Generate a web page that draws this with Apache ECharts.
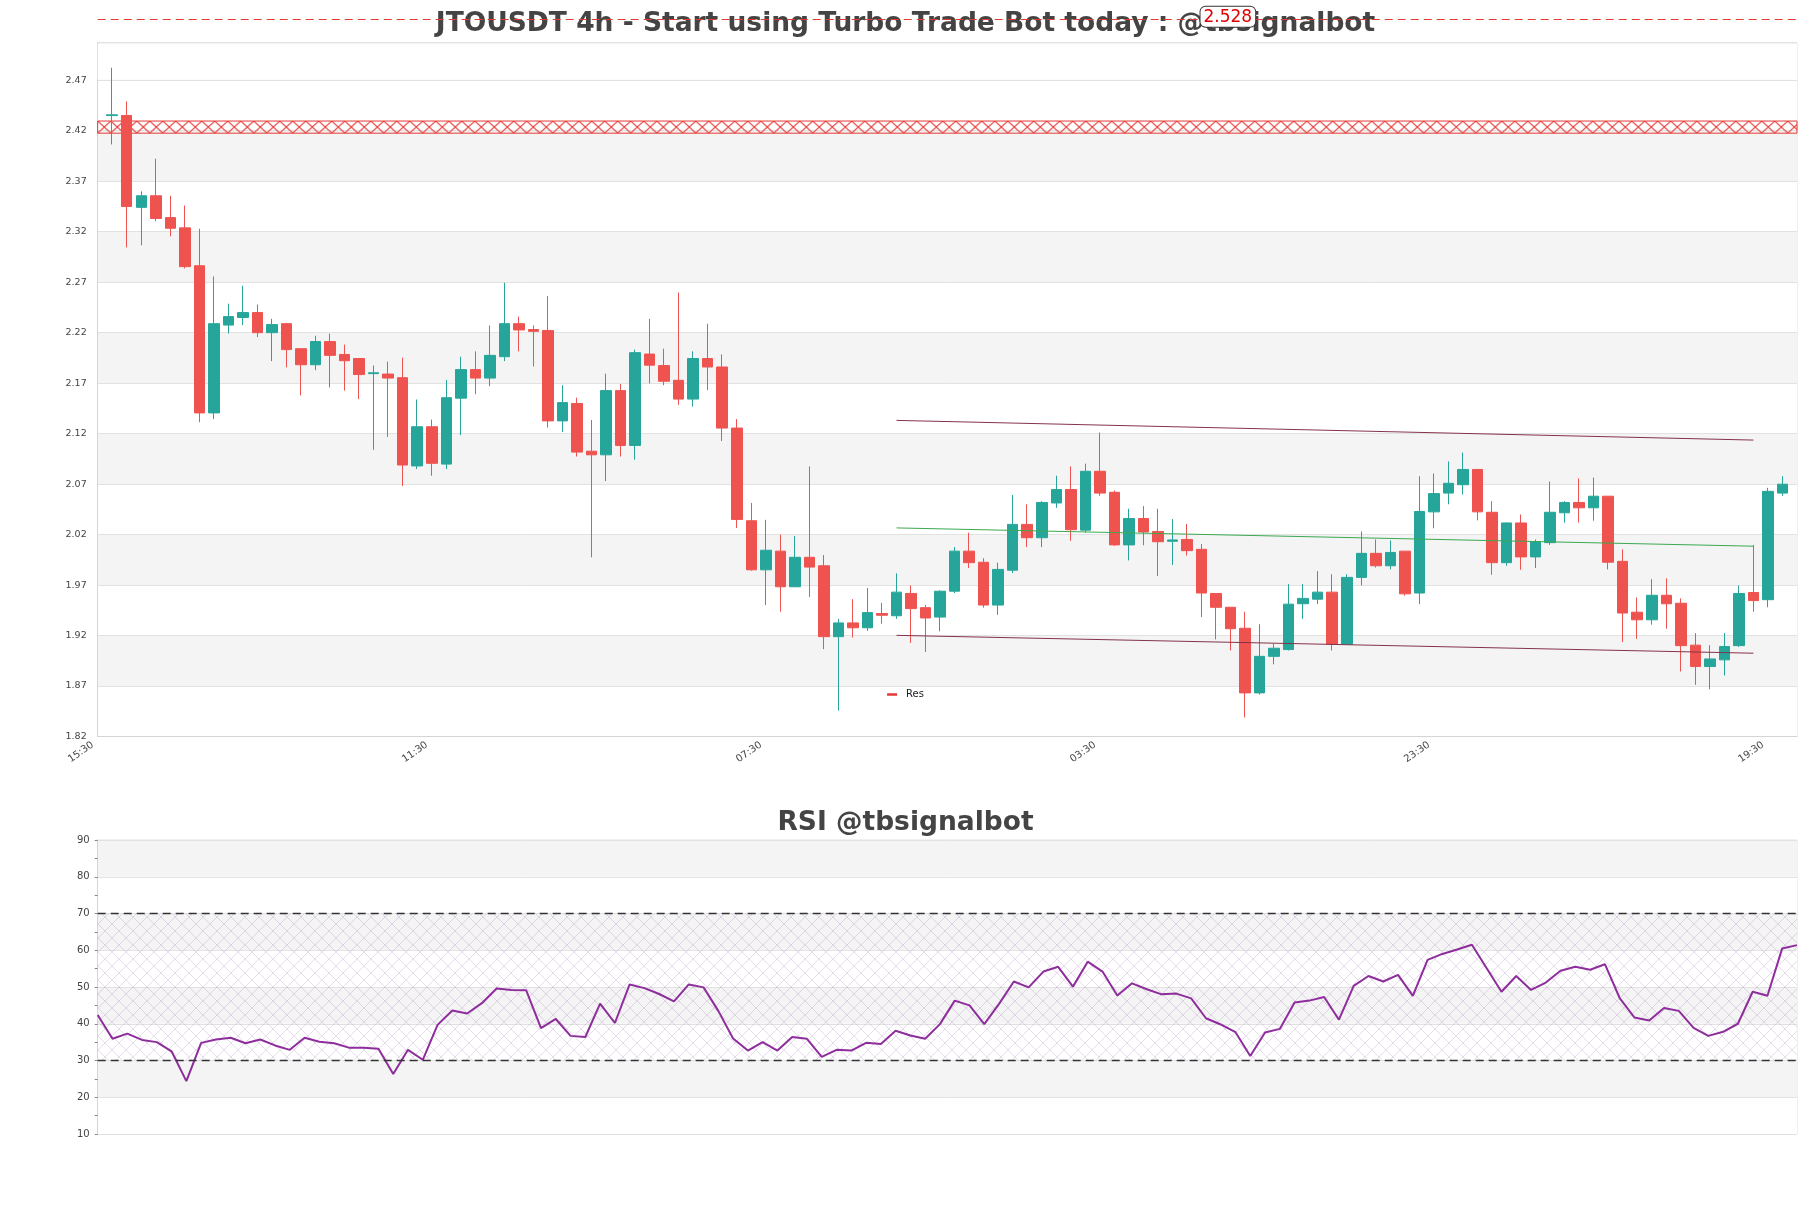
<!DOCTYPE html>
<html><head><meta charset="utf-8">
<script src="https://cdn.jsdelivr.net/npm/echarts@6/dist/echarts.min.js"></script>
<style>html,body{margin:0;padding:0;background:#fff}#c{width:1811px;height:1208px}</style>
</head><body><div id="c"></div>
<script>
// ---------- data ----------
const timeLabels = [
'15:30','19:30','23:30','03:30','07:30','11:30','15:30','19:30','23:30','03:30','07:30','11:30',
'15:30','19:30','23:30','03:30','07:30','11:30','15:30','19:30','23:30','03:30','07:30','11:30',
'15:30','19:30','23:30','03:30','07:30','11:30','15:30','19:30','23:30','03:30','07:30','11:30',
'15:30','19:30','23:30','03:30','07:30','11:30','15:30','19:30','23:30','03:30','07:30','11:30',
'15:30','19:30','23:30','03:30','07:30','11:30','15:30','19:30','23:30','03:30','07:30','11:30',
'15:30','19:30','23:30','03:30','07:30','11:30','15:30','19:30','23:30','03:30','07:30','11:30',
'15:30','19:30','23:30','03:30','07:30','11:30','15:30','19:30','23:30','03:30','07:30','11:30',
'15:30','19:30','23:30','03:30','07:30','11:30','15:30','19:30','23:30','03:30','07:30','11:30',
'15:30','19:30','23:30','03:30','07:30','11:30','15:30','19:30','23:30','03:30','07:30','11:30',
'15:30','19:30','23:30','03:30','07:30','11:30','15:30','19:30','23:30','03:30'
];
const opens = [
2.4350,2.4351,2.3441,2.3556,2.3340,2.3238,2.2863,2.1405,2.2275,2.2350,
2.2399,2.2200,2.2289,2.2041,2.1882,2.2112,2.1984,2.1944,2.1794,2.1790,
2.1754,2.0880,2.1268,2.0898,2.1551,2.1834,2.1750,2.1962,2.2289,2.2231,
2.2222,2.1326,2.1498,2.1026,2.0990,2.1626,2.1083,2.1988,2.1874,2.1728,
2.1542,2.1944,2.1860,2.1255,2.0337,1.9851,2.0036,1.9683,1.9975,1.9891,
1.9189,1.9325,1.9277,1.9418,1.9396,1.9617,1.9476,1.9383,1.9639,2.0036,
1.9926,1.9502,1.9847,2.0301,2.0169,2.0513,2.0646,2.0244,2.0827,2.0619,
2.0098,2.0359,2.0231,2.0134,2.0151,2.0054,1.9617,1.9480,1.9272,1.8632,
1.8994,1.9061,1.9515,1.9560,1.9630,1.9114,1.9776,2.0014,1.9891,2.0036,
1.9621,2.0425,2.0611,2.0694,2.0845,2.0421,1.9922,2.0315,1.9979,2.0120,
2.0416,2.0518,2.0465,2.0580,1.9935,1.9431,1.9356,1.9599,1.9520,1.9105,
1.8893,1.8959,1.9100,1.9626,1.9555,2.0611
];
const closes = [
2.4358,2.3450,2.3556,2.3331,2.3234,2.2854,2.1405,2.2289,2.2359,2.2399,
2.2200,2.2280,2.2032,2.1882,2.2112,2.1975,2.1922,2.1785,2.1803,2.1750,
2.0889,2.1268,2.0906,2.1556,2.1834,2.1750,2.1975,2.2289,2.2227,2.2213,
2.1326,2.1507,2.1017,2.0990,2.1626,2.1083,2.2002,2.1878,2.1719,2.1542,
2.1944,2.1860,2.1255,2.0350,1.9851,2.0045,1.9683,1.9975,1.9878,1.9189,
1.9325,1.9277,1.9427,1.9401,1.9630,1.9467,1.9374,1.9639,2.0036,1.9922,
1.9502,1.9855,2.0301,2.0169,2.0518,2.0646,2.0248,2.0827,2.0611,2.0098,
2.0359,2.0226,2.0129,2.0147,2.0041,1.9621,1.9480,1.9268,1.8632,1.8994,
1.9074,1.9511,1.9568,1.9630,1.9114,1.9776,2.0014,1.9891,2.0023,1.9613,
2.0429,2.0606,2.0708,2.0845,2.0425,1.9922,2.0315,1.9979,2.0129,2.0421,
2.0518,2.0465,2.0580,1.9926,1.9423,1.9356,1.9599,1.9515,1.9100,1.8893,
1.8968,1.9091,1.9617,1.9546,2.0628,2.0699
];
const lows = [
2.4064,2.3044,2.3066,2.3304,2.3154,2.2836,2.1313,2.1344,2.2191,2.2275,
2.2156,2.1918,2.1856,2.1578,2.1829,2.1657,2.1626,2.1542,2.1039,2.1167,
2.0681,2.0849,2.0783,2.0849,2.1185,2.1591,2.1670,2.1918,2.2015,2.1865,
2.1260,2.1215,2.0973,1.9975,2.0730,2.0973,2.0942,2.1697,2.1679,2.1485,
2.1467,2.1631,2.1127,2.0266,1.9842,1.9502,1.9436,1.9683,1.9582,1.9065,
1.8456,1.9180,1.9246,1.9317,1.9365,1.9127,1.9038,1.9242,1.9621,1.9869,
1.9476,1.9405,1.9820,2.0076,2.0076,2.0465,2.0138,2.0222,2.0584,2.0089,
1.9944,2.0094,1.9789,1.9900,1.9992,1.9383,1.9162,1.9052,1.8389,1.8615,
1.8915,1.9052,1.9365,1.9511,1.9052,1.9114,1.9696,1.9873,1.9855,1.9595,
1.9511,2.0262,2.0500,2.0597,2.0341,1.9802,1.9891,1.9851,1.9869,2.0098,
2.0319,2.0319,2.0337,1.9855,1.9136,1.9167,1.9308,1.9268,1.8844,1.8712,
1.8667,1.8804,1.9087,1.9436,1.9480,2.0584
];
const highs = [
2.4824,2.4492,2.3600,2.3923,2.3556,2.3459,2.3229,2.2757,2.2487,2.2664,
2.2478,2.2337,2.2297,2.2041,2.2169,2.2191,2.2081,2.1944,2.1874,2.1913,
2.1953,2.1538,2.1339,2.1732,2.1962,2.2015,2.2271,2.2695,2.2359,2.2271,
2.2562,2.1679,2.1556,2.1335,2.1794,2.1692,2.2032,2.2337,2.2041,2.2598,
2.2015,2.2289,2.1984,2.1344,2.0513,2.0346,2.0200,2.0187,2.0876,1.9997,
1.9365,1.9560,1.9670,1.9524,1.9816,1.9696,1.9502,1.9648,2.0076,2.0218,
1.9966,1.9922,2.0593,2.0500,2.0531,2.0783,2.0876,2.0902,2.1211,2.0637,
2.0456,2.0482,2.0456,2.0354,2.0306,2.0107,1.9617,1.9480,1.9436,1.9312,
1.9118,1.9710,1.9710,1.9838,1.9807,1.9807,2.0231,2.0151,2.0142,2.0036,
2.0778,2.0805,2.0924,2.1012,2.0845,2.0531,2.0319,2.0399,2.0151,2.0725,
2.0531,2.0756,2.0765,2.0580,2.0054,1.9577,1.9758,1.9767,1.9568,1.9224,
1.9105,1.9224,1.9696,2.0098,2.0663,2.0778
];
const rsiValues = [
42.4,35.9,37.3,35.6,35.0,32.5,24.4,34.8,35.7,36.2,
34.7,35.7,34.1,32.9,36.2,35.1,34.7,33.5,33.5,33.2,
26.3,32.9,30.2,39.7,43.6,42.8,45.6,49.6,49.2,49.1,
38.8,41.3,36.7,36.4,45.5,40.2,50.7,49.7,48.1,46.1,
50.7,49.9,43.5,36.0,32.7,35.0,32.7,36.4,35.9,31.0,
32.9,32.7,34.8,34.5,38.1,36.8,35.9,39.9,46.3,45.0,
39.9,45.4,51.5,49.9,54.2,55.5,50.1,56.9,54.2,47.7,
51.0,49.4,48.0,48.2,46.9,41.5,39.8,37.7,31.2,37.6,
38.6,45.8,46.3,47.3,41.1,50.3,53.0,51.5,53.3,47.6,
57.4,59.0,60.2,61.5,55.1,48.7,53.0,49.2,51.2,54.4,
55.5,54.7,56.2,47.0,41.7,40.9,44.3,43.5,38.9,36.7,
37.8,40.0,48.7,47.6,60.5,61.4
];
const priceAxis = { min: 1.82, max: 2.5072, step: 0.05, lastTick: 2.47 };
const rsiAxis = { min: 10, max: 90, step: 10 };
const resZone = [2.4176, 2.4296];
const resLineValue = 2.528;
const trendIdx = [55, 114];
const trendUpper = [2.1331, 2.1136];
const trendMid = [2.0266, 2.0085];
const trendLower = [1.9202, 1.9025];
const rsiLevels = [30, 70];

// ---------- layout / styles ----------
const FONT = 'DejaVu Sans';
const UP = '#26a69a', DOWN = '#ef5350', RED = '#e53935';
const mainGrid = { left: 97.7, right: 14, top: 42.7, height: 693.8 };
// overlay grid sharing the same price scale, extended up to the canvas top
const overlayTop = 0;
const overlayHeight = mainGrid.top + mainGrid.height - overlayTop;
const pxPerUnit = mainGrid.height / (priceAxis.max - priceAxis.min);
const overlayMax = priceAxis.min + overlayHeight / pxPerUnit;

const candleData = timeLabels.map((t, i) =>
  (i >= 1 && i <= opens.length) ? [opens[i-1], closes[i-1], lows[i-1], highs[i-1]] : '-');
const rsiCats = timeLabels.slice(1, 1 + rsiValues.length);

function makeX(w, h, color, lw) {
  const c = document.createElement('canvas');
  c.width = w; c.height = h;
  const ctx = c.getContext('2d');
  ctx.strokeStyle = color; ctx.lineWidth = lw;
  ctx.beginPath();
  ctx.moveTo(0, 0); ctx.lineTo(w, h);
  ctx.moveTo(0, h); ctx.lineTo(w, 0);
  ctx.stroke();
  return c;
}

const titleStyle = { fontSize: 26.5, fontWeight: 'bold', color: '#444', fontFamily: FONT };
const hiddenAxis = { show: false, axisLine: { show: false }, axisTick: { show: false }, axisLabel: { show: false }, splitLine: { show: false }, splitArea: { show: false } };

const option = {
  animation: false,
  backgroundColor: '#fff',
  textStyle: { fontFamily: FONT },
  title: [
    { text: 'JTOUSDT 4h - Start using Turbo Trade Bot today : @tbsignalbot', left: 'center', top: 6, textStyle: titleStyle },
    { text: 'RSI @tbsignalbot', left: 'center', top: 805, textStyle: titleStyle }
  ],
  legend: {
    data: ['Res'], left: 'center', top: 684.5, icon: 'rect', itemWidth: 10, itemHeight: 2.5,
    textStyle: { fontSize: 10, color: '#222', padding: [0, 0, 0, 4] }
  },
  grid: [
    { left: mainGrid.left, right: mainGrid.right, top: mainGrid.top, height: mainGrid.height, show: true, borderColor: '#e2e2e2', borderWidth: 1 },
    { left: 97.7, right: 14, top: 840, height: 294, show: true, borderColor: '#e2e2e2', borderWidth: 1 },
    { left: mainGrid.left, right: mainGrid.right, top: overlayTop, height: overlayHeight, show: false }
  ],
  xAxis: [
    { type: 'category', gridIndex: 0, data: timeLabels, boundaryGap: false,
      axisLine: { lineStyle: { color: '#d5d5d5' } }, axisTick: { show: false },
      axisLabel: { interval: 22, rotate: 35, fontSize: 10, color: '#444', margin: 4, padding: [0, 6, 0, 0] },
      splitLine: { show: false } },
    { type: 'category', gridIndex: 1, data: rsiCats, boundaryGap: false,
      axisLine: { show: false }, axisTick: { show: false }, axisLabel: { show: false }, splitLine: { show: false } },
    Object.assign({ type: 'category', gridIndex: 2, data: timeLabels, boundaryGap: false }, hiddenAxis)
  ],
  yAxis: [
    { type: 'value', gridIndex: 0, min: priceAxis.min, max: priceAxis.max, interval: priceAxis.step,
      axisLine: { show: true, lineStyle: { color: '#d5d5d5' } }, axisTick: { show: false },
      axisLabel: { fontSize: 9.5, color: '#444', margin: 11, showMaxLabel: false },
      splitLine: { lineStyle: { color: '#e2e2e2' } },
      splitArea: { show: true, areaStyle: { color: ['#ffffff', '#f4f4f4'] } } },
    { type: 'value', gridIndex: 1, min: rsiAxis.min, max: rsiAxis.max, interval: rsiAxis.step,
      axisLine: { show: true, lineStyle: { color: '#d5d5d5' } },
      axisTick: { show: true, length: 3, lineStyle: { color: '#888' } },
      minorTick: { show: true, splitNumber: 2, length: 3, lineStyle: { color: '#888' } },
      axisLabel: { fontSize: 10, color: '#444', margin: 8 },
      splitLine: { lineStyle: { color: '#e2e2e2' } },
      splitArea: { show: true, areaStyle: { color: ['#ffffff', '#f4f4f4'] } } },
    Object.assign({ type: 'value', gridIndex: 2, min: priceAxis.min, max: overlayMax }, hiddenAxis)
  ],
  series: [
    { id: 'candles', type: 'candlestick', name: 'JTOUSDT', xAxisIndex: 0, yAxisIndex: 0,
      data: candleData, barWidth: 11,
      itemStyle: { color: UP, color0: DOWN, borderColor: UP, borderColor0: DOWN, borderWidth: 1 },
      markArea: { silent: true, itemStyle: { color: '#ffffff' },
        data: [[{ yAxis: priceAxis.lastTick + 0.0004 }, { yAxis: priceAxis.max - 0.0012 }]] } },
    { id: 'res', type: 'line', name: 'Res', xAxisIndex: 0, yAxisIndex: 0, data: [], symbol: 'none',
      color: RED, lineStyle: { color: RED, width: 2.5 },
      markArea: { silent: true,
        itemStyle: { color: 'rgba(0,0,0,0)', borderColor: RED, borderWidth: 1 },
        data: [[{ yAxis: resZone[0] }, { yAxis: resZone[1] }]] } },
    { id: 'resLine', type: 'line', name: 'resLine', xAxisIndex: 2, yAxisIndex: 2, data: [], symbol: 'none',
      markLine: { silent: true, z: 10, symbol: ['none', 'none'],
        lineStyle: { color: RED, type: [8, 5], width: 1.2 },
        label: { show: true, position: 'middle', verticalAlign: 'middle', distance: 3,
          formatter: '{pad| }{box|' + resLineValue.toFixed(3) + '}',
          rich: { pad: { width: 561 },
                  box: { color: '#e00000', fontSize: 17, backgroundColor: '#fff', borderColor: '#333',
                         borderWidth: 1, borderRadius: 5, padding: [2, 3, 1, 3] } } },
        data: [{ yAxis: resLineValue }] } },
    { id: 'trends', type: 'line', name: 'trend', xAxisIndex: 0, yAxisIndex: 0, data: [],
      markLine: { silent: true, symbol: ['none', 'none'], label: { show: false },
        data: [
          [{ coord: [trendIdx[0], trendUpper[0]], lineStyle: { color: '#853349', width: 1, type: 'solid' } }, { coord: [trendIdx[1], trendUpper[1]] }],
          [{ coord: [trendIdx[0], trendMid[0]], lineStyle: { color: '#3aa94f', width: 1, type: 'solid' } }, { coord: [trendIdx[1], trendMid[1]] }],
          [{ coord: [trendIdx[0], trendLower[0]], lineStyle: { color: '#853349', width: 1, type: 'solid' } }, { coord: [trendIdx[1], trendLower[1]] }]
        ] } },
    { id: 'rsi', type: 'line', name: 'RSI', xAxisIndex: 1, yAxisIndex: 1, data: rsiValues,
      symbol: 'none', lineStyle: { color: '#8e2d9c', width: 2 }, color: '#8e2d9c',
      markArea: { silent: true, itemStyle: { color: { image: makeX(14, 14, 'rgba(150,110,175,0.30)', 0.8), repeat: 'repeat' } },
        data: [[{ yAxis: rsiLevels[0] }, { yAxis: rsiLevels[1] }]] },
      markLine: { silent: true, symbol: ['none', 'none'], label: { show: false },
        lineStyle: { color: '#333', type: [8, 5], width: 1.3 },
        data: [{ yAxis: rsiLevels[0] }, { yAxis: rsiLevels[1] }] } }
  ]
};

const chart = echarts.init(document.getElementById('c'), null, { renderer: 'canvas', width: 1811, height: 1208 });
chart.setOption(option);
const yTop = chart.convertToPixel({ yAxisIndex: 0 }, resZone[1]);
const yBot = chart.convertToPixel({ yAxisIndex: 0 }, resZone[0]);
const cellH = Math.max(2, Math.round(yBot - yTop));
chart.setOption({ series: [{ id: 'res', markArea: { itemStyle: {
  color: { image: makeX(13, cellH, RED, 1.1), repeat: 'repeat', x: mainGrid.left, y: yTop } } } }] });
</script>
</body></html>
